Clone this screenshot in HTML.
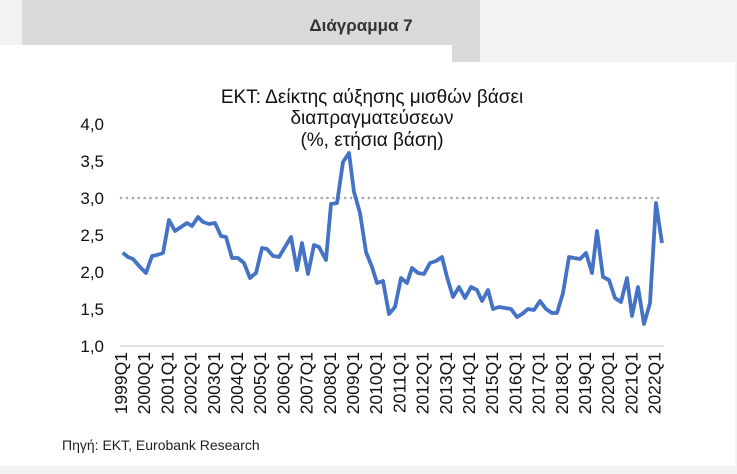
<!DOCTYPE html>
<html><head><meta charset="utf-8"><style>
body{margin:0;width:737px;height:474px;background:#f2f2f2;position:relative;overflow:hidden;font-family:"Liberation Sans","DejaVu Sans",sans-serif}
.hdr{position:absolute;left:22px;top:0;width:458px;height:62px;background:#d9d9d9}
.w1{position:absolute;left:0;top:45px;width:452px;height:30px;background:#fff}
.w2{position:absolute;left:0;top:62px;width:735px;height:404px;background:#fff}
</style></head><body>
<div class="hdr"></div><div class="w1"></div><div class="w2"></div>
<svg width="737" height="474" style="position:absolute;left:0;top:0" font-family="Liberation Sans, DejaVu Sans, sans-serif">
<text x="361" y="31" font-size="17" font-weight="bold" text-anchor="middle" fill="#333">Διάγραμμα 7</text>
<g font-size="19" text-anchor="middle" fill="#111">
<text x="372" y="103">ΕΚΤ: Δείκτης αύξησης μισθών βάσει</text>
<text x="372" y="124">διαπραγματεύσεων</text>
<text x="372" y="146">(%, ετήσια βάση)</text>
</g>
<g font-size="17" text-anchor="end" fill="#111">
<text x="104" y="130">4,0</text><text x="104" y="167">3,5</text><text x="104" y="204">3,0</text><text x="104" y="241">2,5</text><text x="104" y="278">2,0</text><text x="104" y="315">1,5</text><text x="104" y="352">1,0</text>
</g>
<line x1="120" y1="346" x2="664" y2="346" stroke="#d9d9d9" stroke-width="1.5"/>
<line x1="121" y1="198" x2="663" y2="198" stroke="#a6a6a6" stroke-width="2.5" stroke-dasharray="0.1,5.8" stroke-linecap="round"/>
<polyline fill="none" stroke="#4472c4" stroke-width="3.8" stroke-linejoin="round" points="122.7,252.7 128,257 133,259 140,267 146,273 152,256 157,255 163,253 169,220 175,231 181,227 187,223 192,226 198,217 203,222 209,224 215,223 221,236 226,237 232,258 238,258 244,263 250,278 256,273 262,248 267,249 273,256 279,257 285,247 291,237 297,270 302,243 308,274 314,245 319,247 326,260 331,204 337,203 343,162 349,153 354,192 360,213 366,252 372,267 377,283 383,281 389,314 395,307 401,278 407,283 412,268 418,273 424,274 430,263 436,261 442,257 447,277 453,297 459,287 465,298 471,287 477,290 482,301 488,290 493,309 499,307 505,308 511,309 517,317 522,314 528,309 534,310 540,301 546,309 552,313 557,313 563,293 569,257 574,258 580,259 586,253 592,273 597,231 603,277 609,280 615,298 621,302 627,278 632,316 638,287 644,324 650,303 656,203 662,243"/>
<g font-size="17.5" fill="#111" id="xl"></g>
<text x="62" y="450" font-size="14" fill="#222">Πηγή: ΕΚΤ,  Eurobank Research</text>
</svg>
<script>
var g=document.getElementById('xl'),s='';
for(var i=0;i<24;i++){var x=127+i*23.2;s+='<text transform="translate('+x+',352) rotate(-90)" text-anchor="end">'+(1999+i)+'Q1</text>';}
g.innerHTML=s;
</script>
</body></html>
